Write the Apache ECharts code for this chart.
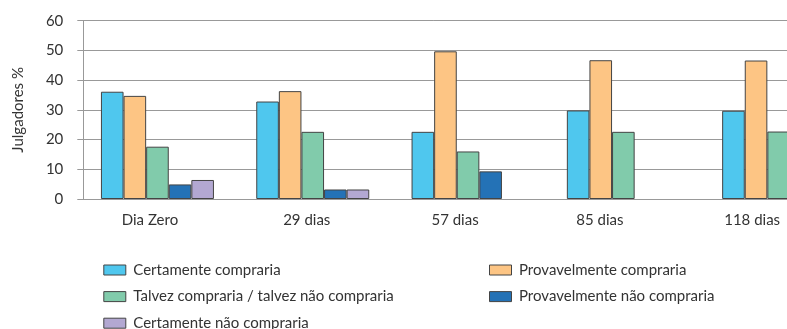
<!DOCTYPE html>
<html>
<head>
<meta charset="utf-8">
<script src="https://cdn.jsdelivr.net/npm/echarts@6/dist/echarts.min.js"></script>
<style>
html,body{margin:0;padding:0;background:#fff;}
#c{width:787px;height:329px;}
</style>
</head>
<body>
<div id="c"></div>
<script>
const categories = ['Dia Zero', '29 dias', '57 dias', '85 dias', '118 dias'];
const certamenteCompraria = [36.1, 32.8, 22.6, 29.8, 29.7];
const provavelmenteCompraria = [34.7, 36.3, 49.7, 46.7, 46.6];
const talvezCompraria = [17.6, 22.6, 16.0, 22.6, 22.7];
const provavelmenteNaoCompraria = [4.9, 3.2, 9.3, null, null];
const certamenteNaoCompraria = [6.4, 3.2, null, null, null];
const seriesNames = [
  'Certamente compraria',
  'Provavelmente compraria',
  'Talvez compraria / talvez não compraria',
  'Provavelmente não compraria',
  'Certamente não compraria'
];
const yMin = 0, yMax = 60, yStep = 10;

const colors = ['#4FC7EE', '#FDC584', '#81CBAB', '#2472B6', '#B3A8D2'];
const labelShift = [15, 12, 26, 47, 53];
const FONT = 'Lato';
const TXT = '#333';

const seriesData = [certamenteCompraria, provavelmenteCompraria, talvezCompraria, provavelmenteNaoCompraria, certamenteNaoCompraria];

const rich = {};
labelShift.forEach((p, i) => {
  rich['l' + i] = { padding: [0, p, 0, 0], fontFamily: FONT, fontSize: 15, color: TXT };
});

const chart = echarts.init(document.getElementById('c'), null, { renderer: 'canvas' });
const legendBase = {
  orient: 'vertical',
  top: 257,
  height: 120,
  itemWidth: 22,
  itemHeight: 10,
  itemGap: 10.6,
  selectedMode: false,
  icon: 'rect',
  itemStyle: { borderColor: '#444', borderWidth: 1 },
  textStyle: { fontFamily: FONT, fontSize: 15, color: TXT, lineHeight: 16, padding: [0, 0, 0, 2.5] }
};
chart.setOption({
  animation: false,
  color: colors,
  grid: { left: 79.8, width: 776.5, top: 20.7, height: 178.3, containLabel: false, outerBoundsMode: 'none' },
  legend: [
    Object.assign({}, legendBase, { left: 98.3, data: [seriesNames[0], seriesNames[2], seriesNames[4]] }),
    Object.assign({}, legendBase, { left: 484, data: [seriesNames[1], seriesNames[3]] })
  ],
  xAxis: {
    type: 'category',
    data: categories,
    axisLine: { lineStyle: { color: '#999', width: 1 } },
    axisTick: { show: false },
    axisLabel: {
      interval: 0,
      margin: 14,
      fontFamily: FONT,
      fontSize: 15,
      color: TXT,
      formatter: (v, i) => '{l' + i + '|' + v + '}',
      rich: rich
    }
  },
  yAxis: {
    type: 'value',
    min: yMin,
    max: yMax,
    interval: yStep,
    offset: -3.5,
    name: 'Julgadores %',
    nameLocation: 'middle',
    nameGap: 58,
    nameTextStyle: { fontFamily: FONT, fontSize: 15, color: TXT },
    axisLine: { show: true, lineStyle: { color: '#999', width: 1 } },
    axisTick: { show: true, length: 6, lineStyle: { color: '#999', width: 1 } },
    splitLine: { lineStyle: { color: '#999', width: 1 } },
    axisLabel: { margin: 20, fontFamily: FONT, fontSize: 15, color: TXT }
  },
  series: seriesNames.map((name, i) => ({
    name: name,
    type: 'bar',
    data: seriesData[i],
    barWidth: 22.6,
    barGap: '0%',
    itemStyle: { borderColor: '#444', borderWidth: 1 }
  }))
});
</script>
</body>
</html>
